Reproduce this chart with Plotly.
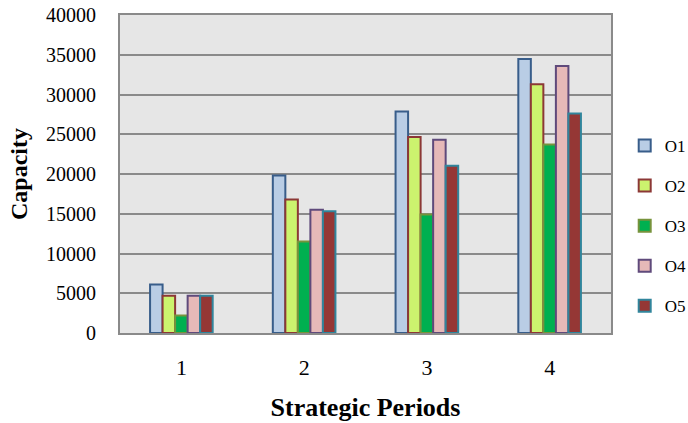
import plotly.graph_objects as go

# Capacity by strategic period for five options
periods = ["1", "2", "3", "4"]
series_names = ["O1", "O2", "O3", "O4", "O5"]
o1 = [6100, 19800, 27850, 34450]
o2 = [4700, 16800, 24650, 31300]
o3 = [2200, 11500, 14900, 23700]
o4 = [4700, 15500, 24300, 33600]
o5 = [4700, 15300, 21050, 27600]
y_ticks = [0, 5000, 10000, 15000, 20000, 25000, 30000, 35000, 40000]
y_tick_labels = [str(v) for v in y_ticks]

series_values = [o1, o2, o3, o4, o5]
fill_colors = ["#b9cde5", "#ccf36e", "#00b050", "#e6b9b8", "#953735"]
edge_colors = ["#385d8a", "#8c3836", "#77933c", "#5f4a7b", "#31859c"]

fig = go.Figure()
for name, vals, fc, ec in zip(series_names, series_values, fill_colors, edge_colors):
    fig.add_trace(go.Bar(
        x=periods, y=vals, name=name, legendgroup=name,
        marker=dict(color=fc, line=dict(color=ec, width=2)),
    ))

serif = "Liberation Serif, Times New Roman, serif"
grid_col = "#8a8a8a"

fig.update_layout(
    width=688, height=423,
    margin=dict(l=120, r=77, t=15, b=90, autoexpand=False),
    paper_bgcolor="white",
    plot_bgcolor="#e6e6e6",
    barmode="group",
    bargap=0.49,
    bargroupgap=0,
    showlegend=True,
    legend=dict(
        xref="container", yref="container",
        x=0.908, y=0.466, xanchor="left", yanchor="middle",
        font=dict(family=serif, size=17, color="black"),
        traceorder="grouped", tracegroupgap=15,
        itemwidth=30,
        bgcolor="rgba(0,0,0,0)",
    ),
    xaxis=dict(
        automargin=False,
        showgrid=False, showline=True, linecolor=grid_col, linewidth=2,
        mirror=True, ticks="",
        tickfont=dict(family=serif, size=22, color="black"),
        ticklabelstandoff=14,
        title=dict(text="<b>Strategic Periods</b>",
                   font=dict(family=serif, size=26, color="black"), standoff=18),
    ),
    yaxis=dict(
        automargin=False,
        range=[0, 40000], tickvals=y_ticks, ticktext=y_tick_labels,
        showgrid=True, gridcolor=grid_col, gridwidth=2,
        showline=True, linecolor=grid_col, linewidth=2, mirror=True,
        zeroline=False, ticks="",
        tickfont=dict(family=serif, size=20, color="black"),
        ticklabelstandoff=18,
        title=dict(text="<b>Capacity</b>",
                   font=dict(family=serif, size=24, color="black"), standoff=12),
    ),
)

fig.write_html("out.html")
